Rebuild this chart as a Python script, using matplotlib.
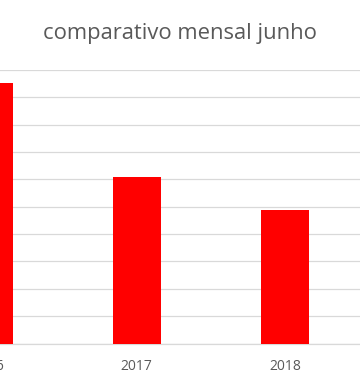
import matplotlib
matplotlib.use("Agg")
import matplotlib.pyplot as plt

# dados (escala arbitrária)
anos = ["2016", "2017", "2018"]
valores = [95.4, 60.8, 48.8]
titulo = "comparativo mensal junho"

plt.rcParams['font.family'] = ['Open Sans', 'DejaVu Sans']

fig = plt.figure(figsize=(3.6, 3.9), dpi=100)
# a área do gráfico passa da borda esquerda (recorte do original)
ax = fig.add_axes([-85.4 / 360, 46.5 / 390, 445 / 360, 273.5 / 390])

x = range(len(anos))
ax.bar(x, valores, width=0.327, color="#ff0000", zorder=3)

ax.set_xlim(-0.5, 2.505)
ax.set_ylim(0, 100)
ax.set_yticks(range(0, 101, 10))
ax.yaxis.grid(True, color="#d9d9d9", linewidth=0.9, zorder=0)
ax.set_axisbelow(True)

ax.set_xticks(list(x))
ax.set_xticklabels(anos, color="#595959", fontsize=10)
ax.tick_params(axis="x", length=0, pad=11)
ax.tick_params(axis="y", left=False, labelleft=False)

for s in ["top", "left", "right"]:
    ax.spines[s].set_visible(False)
ax.spines["bottom"].set_color("#d9d9d9")
ax.spines["bottom"].set_linewidth(0.9)

fig.text(0.5, 1 - 34 / 390, titulo, ha="center", va="center",
         color="#595959", fontsize=15.8)

fig.savefig("out.png", dpi=100, facecolor="white")
